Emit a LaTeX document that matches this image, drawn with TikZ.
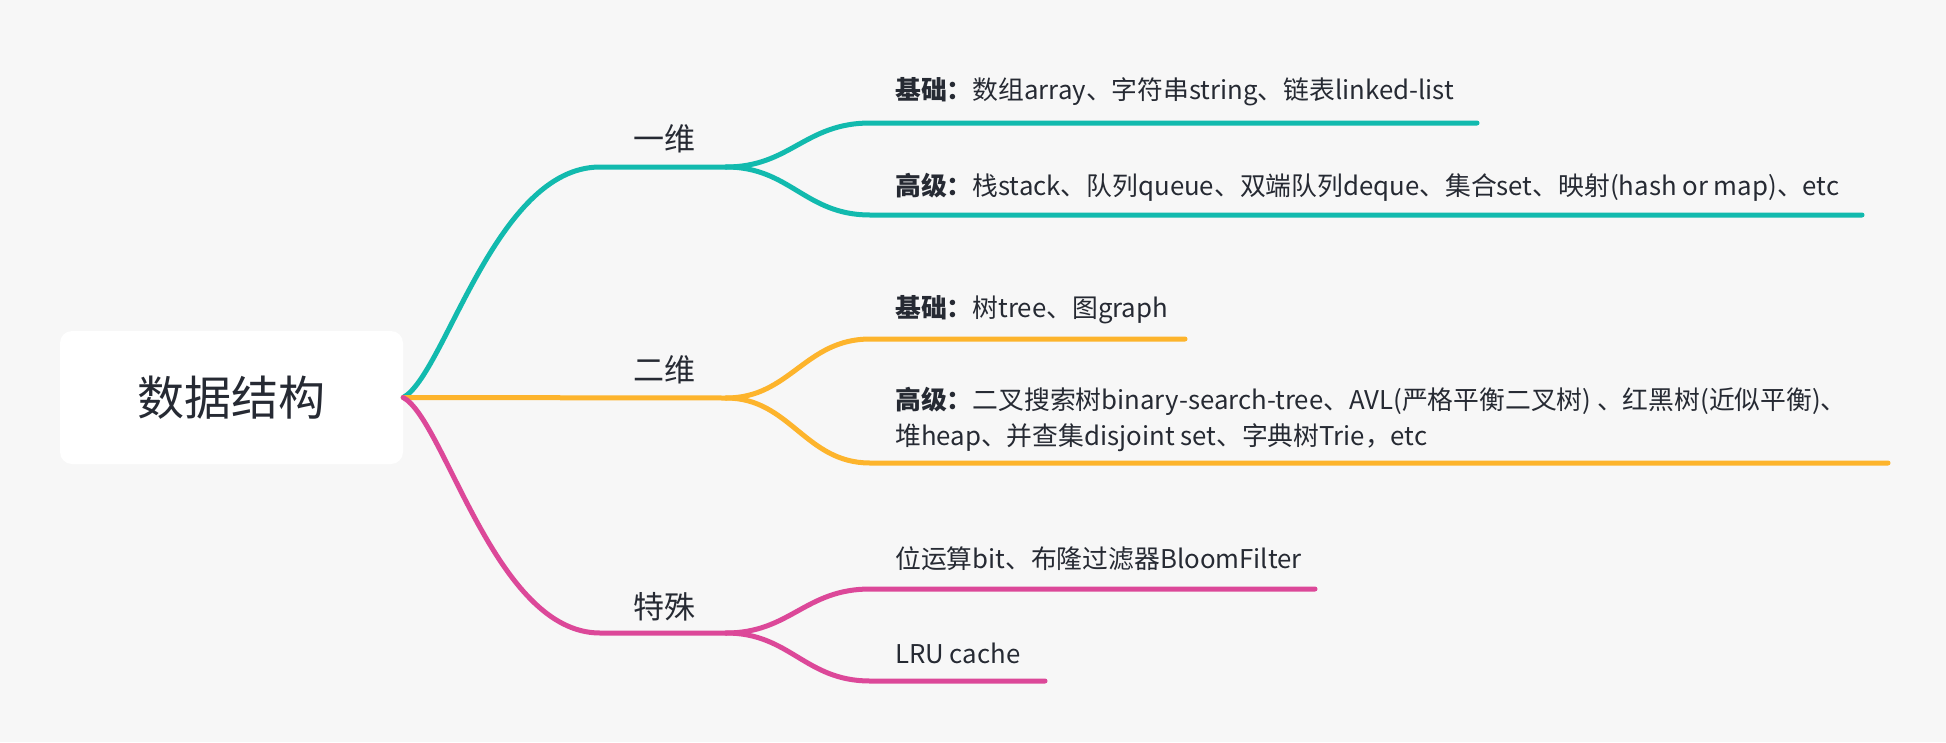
\documentclass[tikz,border=0pt]{standalone}
\usepackage{fontspec}
\setmainfont{Noto Sans CJK SC}
\definecolor{bgc}{HTML}{F7F7F7}
\definecolor{tealc}{HTML}{12BAAE}
\definecolor{yellc}{HTML}{FDB42C}
\definecolor{pinkc}{HTML}{DC4899}
\definecolor{inkc}{HTML}{262A33}
\tikzset{
  rootbox/.style={fill=white, rounded corners=12pt, minimum width=343pt, minimum height=133pt, inner sep=0pt, text=inkc, font=\fontsize{47}{56}\selectfont},
  lbl/.style={text=inkc, inner sep=0pt, font=\fontsize{31}{36}\selectfont},
  leaf/.style={anchor=west, text=inkc, inner sep=0pt, align=left, font=\fontsize{25.8}{36}\selectfont},
  br/.style={line width=5pt, line cap=round},
}
\begin{document}
\begin{tikzpicture}[x=1pt,y=-1pt]
\fill[bgc] (0,0) rectangle (1946,742);
\useasboundingbox (0,0) rectangle (1946,742);

\node[rootbox] (root) at (231.5,397.5) {数据结构};

% level-1 labels
\node[lbl] (l1) at (664,139) {一维};
\node[lbl] (l2) at (664,370) {二维};
\node[lbl] (l3) at (664,607) {特殊};

% split points
\coordinate (s1) at (726,167);
\coordinate (s2) at (726,398);
\coordinate (s3) at (726,633);

% leaf end points
\coordinate (e11) at (1477,123);
\coordinate (e12) at (1862,215);
\coordinate (e21) at (1185,339);
\coordinate (e22) at (1888,463);
\coordinate (e31) at (1315,589);
\coordinate (e32) at (1045,681);

% main branches
\draw[br, tealc] (root.east) .. controls (445,375) and (495,167) .. (600,167) -- (s1);
\draw[br, yellc] (root.east) -- (s2);
\draw[br, pinkc] (root.east) .. controls (445,420) and (495,633) .. (600,633) -- (s3);

% sub branches
\draw[br, tealc] (s1) .. controls (790,167) and (805,123) .. (870,123) -- (e11);
\draw[br, tealc] (s1) .. controls (790,167) and (805,215) .. (870,215) -- (e12);
\draw[br, yellc] (s2) .. controls (790,398) and (805,339) .. (870,339) -- (e21);
\draw[br, yellc] (s2) .. controls (790,398) and (805,463) .. (870,463) -- (e22);
\draw[br, pinkc] (s3) .. controls (790,633) and (805,589) .. (870,589) -- (e31);
\draw[br, pinkc] (s3) .. controls (790,633) and (805,681) .. (870,681) -- (e32);

% leaf texts
\node[leaf] (t11) at (895,92) {\textbf{基础：}数组array、字符串string、链表linked-list};
\node[leaf] (t12) at (895,187) {\textbf{高级：}栈stack、队列queue、双端队列deque、集合set、映射(hash or map)、etc};
\node[leaf] (t21) at (895,310) {\textbf{基础：}树tree、图graph};
\node[leaf] (t22) at (895,419) {\textbf{高级：}二叉搜索树binary-search-tree、AVL(严格平衡二叉树) 、红黑树(近似平衡)、\\堆heap、并查集disjoint set、字典树Trie，etc};
\node[leaf] (t31) at (895,559) {位运算bit、布隆过滤器BloomFilter};
\node[leaf] (t32) at (895,653) {LRU cache};
\end{tikzpicture}
\end{document}
